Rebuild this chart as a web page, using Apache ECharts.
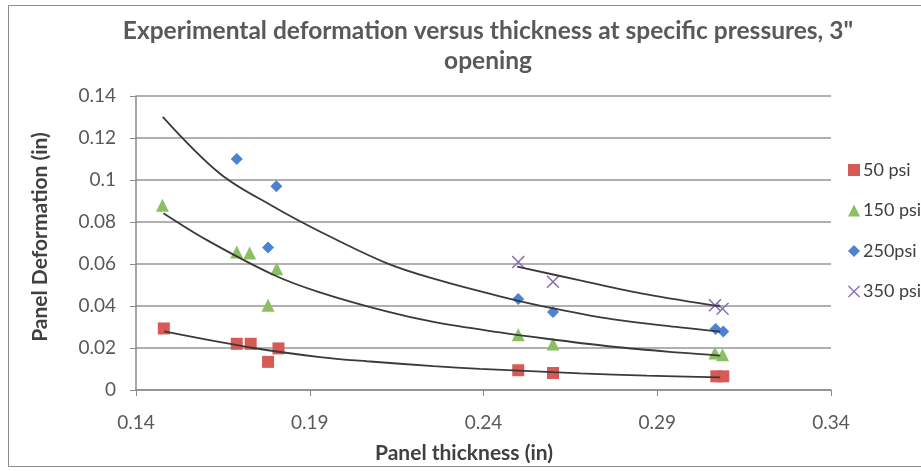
<!DOCTYPE html>
<html><head><meta charset="utf-8">
<script src="https://cdn.jsdelivr.net/npm/echarts@6/dist/echarts.min.js"></script>
<style>html,body{margin:0;padding:0;background:#fff}#c{width:921px;height:471px}</style>
</head><body><div id="c"></div>
<script>
// ---- data ----
const xTicks = [0.14, 0.19, 0.24, 0.29, 0.34];
const yTicks = [0, 0.02, 0.04, 0.06, 0.08, 0.1, 0.12, 0.14];
const seriesNames = ['50 psi', '150 psi', '250psi', '350 psi'];

const psi50 = [[0.148,0.0293],[0.169,0.0220],[0.173,0.0220],[0.178,0.0134],[0.181,0.0198],[0.250,0.0094],[0.260,0.0081],[0.307,0.0065],[0.309,0.0065]];
const psi150 = [[0.1476,0.0880],[0.169,0.0657],[0.1727,0.0652],[0.178,0.0403],[0.1805,0.0577],[0.250,0.0263],[0.260,0.0219],[0.3066,0.0176],[0.3088,0.0168]];
const psi250 = [[0.169,0.1100],[0.178,0.0679],[0.1804,0.0970],[0.250,0.0433],[0.260,0.0371],[0.3068,0.0290],[0.309,0.0279]];
const psi350 = [[0.250,0.0609],[0.260,0.0515],[0.3066,0.0403],[0.3088,0.0387]];

// trendline points
const trend50 = [[0.1481,0.0279],[0.1738,0.0200],[0.1929,0.0157],[0.2064,0.0137],[0.2256,0.0114],[0.2390,0.0101],[0.2678,0.0079],[0.2870,0.0068],[0.3081,0.0060]];
const trend150 = [[0.1479,0.0842],[0.1603,0.0715],[0.1795,0.0549],[0.1929,0.0465],[0.2121,0.0374],[0.2256,0.0324],[0.2447,0.0274],[0.2582,0.0244],[0.2774,0.0206],[0.2965,0.0178],[0.3081,0.0164]];
const trend250 = [[0.1477,0.1301],[0.1642,0.1030],[0.1795,0.0874],[0.1929,0.0755],[0.2121,0.0604],[0.2256,0.0530],[0.2447,0.0446],[0.2582,0.0395],[0.2774,0.0336],[0.2965,0.0298],[0.3081,0.0278]];
const trend350 = [[0.2497,0.0588],[0.2678,0.0522],[0.2870,0.0455],[0.3081,0.0398]];

// ---- chart ----
const FONT = 'Lato';
const colors = ['#D65A55', '#8CBF63', '#4C82D0', '#8870B5'];
const xPath = 'path://M0,0.8 L0.8,0 L5,4.2 L9.2,0 L10,0.8 L5.8,5 L10,9.2 L9.2,10 L5,5.8 L0.8,10 L0,9.2 L4.2,5 Z';
const symbols = ['rect', 'triangle', 'diamond', xPath];
const sizes = [12, 13, 12, 13];
const markerData = [psi50, psi150, psi250, psi350];
const trendData = [trend50, trend150, trend250, trend350];

const series = [];
markerData.forEach((d, i) => {
  series.push({
    name: seriesNames[i], type: 'scatter', data: d,
    symbol: symbols[i], symbolSize: sizes[i],
    itemStyle: { color: colors[i], opacity: 1 }, z: 3
  });
});
trendData.forEach((d, i) => {
  series.push({
    name: 'trend' + i, type: 'line', data: d, smooth: 0.35,
    showSymbol: false, symbol: 'none',
    lineStyle: { color: '#3a3a3a', width: 1.8 }, z: 4, silent: true
  });
});

const chart = echarts.init(document.getElementById('c'));
chart.setOption({
  backgroundColor: '#fff',
  animation: false,
  title: [{
    text: 'Experimental deformation versus thickness at specific pressures, 3"\nopening',
    left: 483, top: 11, textAlign: 'center',
    textStyle: { fontFamily: FONT, fontWeight: 'bold', fontSize: 24.5, color: '#595959', lineHeight: 30 }
  }, {
    text: 'Panel thickness (in)', left: 459, top: 438, textAlign: 'center',
    textStyle: { fontFamily: FONT, fontWeight: 'bold', fontSize: 21, color: '#404040' }
  }],
  graphic: [{
    type: 'rect', shape: { x: 8.5, y: 5.5, width: 940, height: 461 },
    style: { fill: 'none', stroke: '#8a8a8a', lineWidth: 1 }, silent: true, z: -1
  }],
  legend: {
    data: seriesNames, orient: 'vertical', left: 843, top: 156, itemGap: 22.5,
    itemWidth: 12, itemHeight: 12,
    textStyle: { fontFamily: FONT, fontSize: 18, lineHeight: 18, color: '#404040', padding: [0, 0, 0, -2] }
  },
  grid: { left: 136, right: 90, top: 96, bottom: 81, containLabel: false },
  xAxis: {
    type: 'value', min: 0.14, max: 0.34,
    axisLine: { show: true, onZero: false, lineStyle: { color: '#8a8a8a', width: 1.5 } },
    axisTick: { show: true, length: 6, customValues: xTicks, lineStyle: { color: '#8a8a8a' } },
    axisLabel: { customValues: xTicks, formatter: v => v.toFixed(2), margin: 23,
      fontFamily: FONT, fontSize: 19, color: '#595959' },
    splitLine: { show: false }
  },
  yAxis: {
    type: 'value', min: 0, max: 0.14, interval: 0.02,
    name: 'Panel Deformation (in)', nameLocation: 'middle', nameGap: 85, nameRotate: 90,
    nameTextStyle: { fontFamily: FONT, fontWeight: 'bold', fontSize: 21, color: '#404040', padding: [0, 0, 0, 12] },
    axisLine: { show: true, lineStyle: { color: '#8a8a8a', width: 1.5 } },
    axisTick: { show: true, length: 6, lineStyle: { color: '#8a8a8a' } },
    axisLabel: { margin: 20, fontFamily: FONT, fontSize: 19, color: '#595959',
      formatter: v => { const t = yTicks.find(y => Math.abs(y - v) < 1e-9); return t === undefined ? '' : String(t); } },
    splitLine: { show: true, lineStyle: { color: '#b0b0b0', width: 2 } }
  },
  series: series
});
</script></body></html>
